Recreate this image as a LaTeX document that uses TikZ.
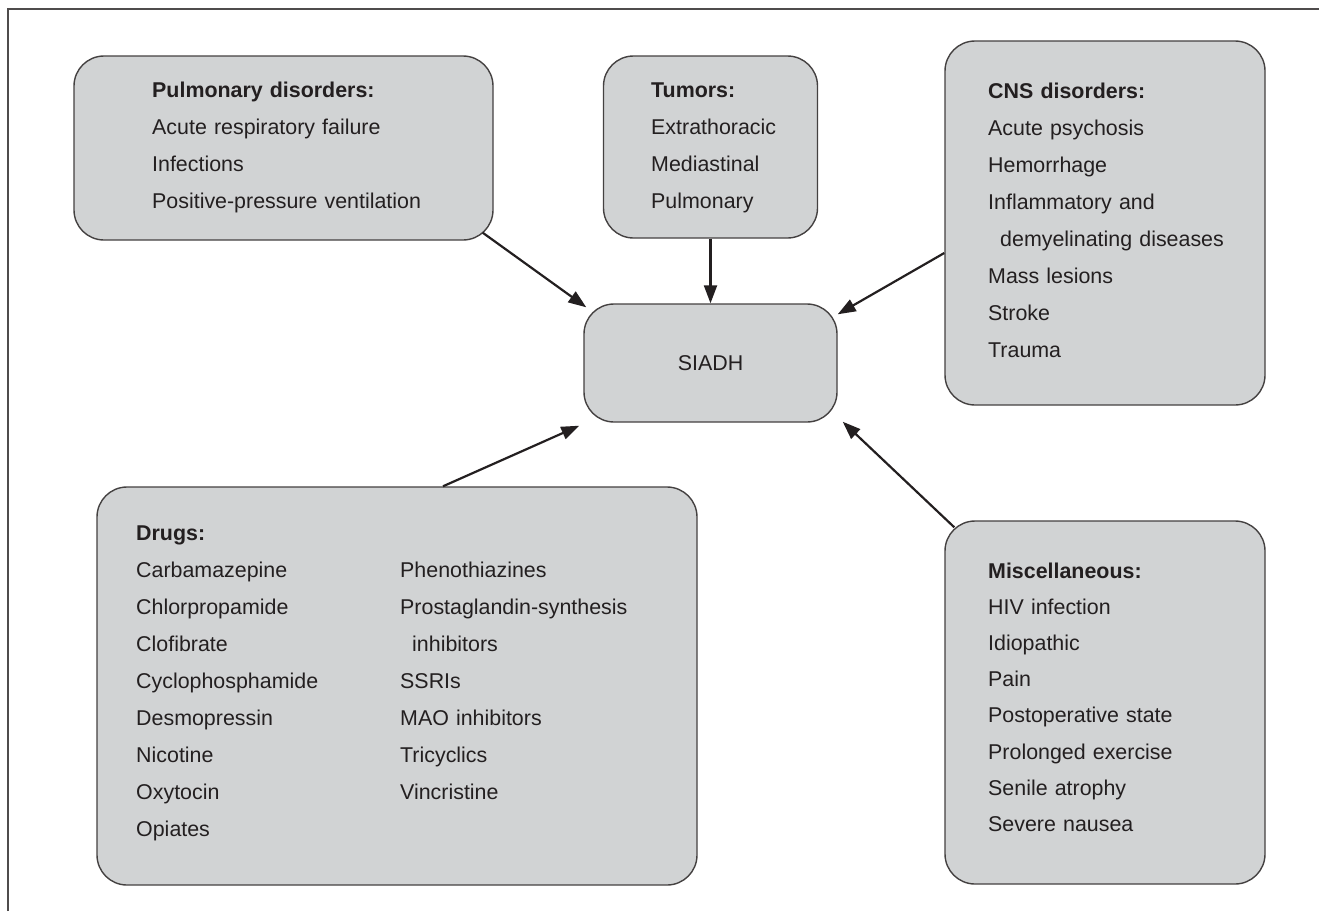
\documentclass[tikz,border=0pt]{standalone}
\usepackage{fontspec}
\setmainfont{Liberation Sans}
\usetikzlibrary{positioning,calc,arrows.meta}

\definecolor{boxfill}{HTML}{D1D3D4}
\definecolor{ink}{HTML}{231F20}

\tikzset{
  causebox/.style={draw=ink!85, line width=1.4pt, fill=boxfill, rounded corners=30pt, inner sep=0pt},
  causelist/.style={anchor=base west, inner sep=0pt, align=left, text width=#1, text=ink,
    font=\fontsize{21.4}{37}\selectfont},
  cause/.style={-{Triangle[length=18pt,width=13pt]}, line width=2.2pt, draw=ink},
}

\begin{document}
\begin{tikzpicture}[x=1pt,y=-1pt]
  \useasboundingbox (0,0) rectangle (1319,911);
  % frame
  \draw[ink!80, line width=1.5pt] (8,911) |- (1319,9);

  % boxes
  \node[causebox, minimum width=419pt, minimum height=184pt] (pulm)  at (283.5,148) {};
  \node[causebox, minimum width=214pt, minimum height=182pt] (tumor) at (710.5,147) {};
  \node[causebox, minimum width=320pt, minimum height=364pt] (cns)   at (1105,223) {};
  \node[causebox, minimum width=253pt, minimum height=118pt, text=ink,
    font=\fontsize{21.4}{37}\selectfont] (siadh) at (710.5,363) {SIADH};
  \node[causebox, minimum width=600pt, minimum height=398pt] (drugs) at (397,686) {};
  \node[causebox, minimum width=320pt, minimum height=363pt] (misc)  at (1105,702.5) {};

  % lists
  \node[causelist=300pt] (pulmlist) at (152,97)
    {\textbf{Pulmonary disorders:}\\Acute respiratory failure\\Infections\\Positive-pressure ventilation};
  \node[causelist=160pt] (tumorlist) at (651,97)
    {\textbf{Tumors:}\\Extrathoracic\\Mediastinal\\Pulmonary};
  \node[causelist=260pt] (cnslist) at (988,98)
    {\textbf{CNS disorders:}\\Acute psychosis\\Hemorrhage\\Inflammatory and\\
     \hspace*{12pt}demyelinating diseases\\Mass lesions\\Stroke\\Trauma};
  \node[causelist=240pt] (drugslist) at (136,540)
    {\textbf{Drugs:}\\Carbamazepine\\Chlorpropamide\\Clofibrate\\Cyclophosphamide\\
     Desmopressin\\Nicotine\\Oxytocin\\Opiates};
  \node[causelist=280pt] (drugsmore) at (400,577)
    {Phenothiazines\\Prostaglandin-synthesis\\\hspace*{12pt}inhibitors\\SSRIs\\
     MAO inhibitors\\Tricyclics\\Vincristine};
  \node[causelist=260pt, font=\fontsize{21.4}{36.2}\selectfont] (misclist) at (988,578)
    {\textbf{Miscellaneous:}\\HIV infection\\Idiopathic\\Pain\\Postoperative state\\
     Prolonged exercise\\Senile atrophy\\Severe nausea};

  % arrows
  \draw[cause] ([shift={(-11,-8)}]pulm.south east) -- ([shift={(3,4)}]siadh.north west);
  \draw[cause] (tumor.south) -- (siadh.north);
  \draw[cause] ([shift={(0,30)}]cns.west) -- ([shift={(0,11)}]siadh.north east);
  \draw[cause] ([shift={(46,0)}]drugs.north) -- ([shift={(-4,3)}]siadh.south west);
  \draw[cause] ([shift={(10,7)}]misc.north west) -- ([shift={(5,-1)}]siadh.south east);
\end{tikzpicture}
\end{document}
